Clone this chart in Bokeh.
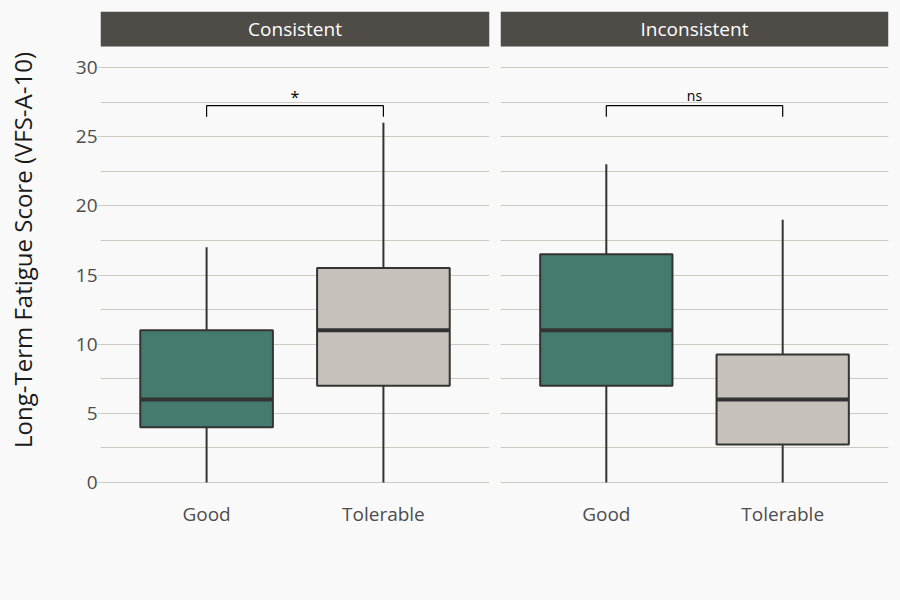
from bokeh.plotting import figure
from bokeh.layouts import row
from bokeh.models import Range1d, FixedTicker, BoxAnnotation, Label
from bokeh.embed import file_html
from bokeh.resources import INLINE

# ---- data ----
panels = ["Consistent", "Inconsistent"]
categories = ["Good", "Tolerable"]
whisker_low = {"Consistent": [0, 0], "Inconsistent": [0, 0]}
q1 = {"Consistent": [4, 7], "Inconsistent": [7, 2.75]}
median = {"Consistent": [6, 11], "Inconsistent": [11, 6]}
q3 = {"Consistent": [11, 15.5], "Inconsistent": [16.5, 9.25]}
whisker_high = {"Consistent": [17, 26], "Inconsistent": [23, 19]}
sig_label = {"Consistent": "*", "Inconsistent": "ns"}
sig_y = 27.25
sig_tip = 0.8
y_ticks = [0, 5, 10, 15, 20, 25, 30]
grid_ticks = [0, 2.5, 5, 7.5, 10, 12.5, 15, 17.5, 20, 22.5, 25, 27.5, 30]
box_colors = ["#457b6f", "#c6c1bb"]
y_title = "Long-Term Fatigue Score (VFS-A-10)"

BG = "#f9f9f9"
FONT = "Open Sans"
LINE = "#333333"
GRID = "#cdc9c3"

Y0, Y1 = -0.434, 34.05
STRIP_BOTTOM, STRIP_TOP = 31.52, 34.05


def make_panel(name, first):
    xs = [i + 1 for i in range(len(categories))]
    if first:
        w, left, right = 100 + 389 + 5, 100, 5
    else:
        w, left, right = 6 + 388 + 12, 6, 12
    p = figure(width=w, height=600, output_backend="svg", toolbar_location=None,
               x_range=Range1d(0.4, 2.6), y_range=Range1d(Y0, Y1),
               min_border_left=left, min_border_right=right,
               min_border_top=11, min_border_bottom=112)
    p.background_fill_color = BG
    p.border_fill_color = BG
    p.outline_line_color = None

    # grid
    p.xgrid.visible = False
    p.ygrid.ticker = FixedTicker(ticks=grid_ticks)
    p.ygrid.grid_line_color = GRID
    p.ygrid.grid_line_width = 1

    # x axis
    p.xaxis.ticker = FixedTicker(ticks=xs)
    p.xaxis.major_label_overrides = {x: c for x, c in zip(xs, categories)}
    p.xaxis.axis_line_color = None
    p.xaxis.major_tick_line_color = None
    p.xaxis.minor_tick_line_color = None
    p.xaxis.major_label_text_font = FONT
    p.xaxis.major_label_text_font_size = "19px"
    p.xaxis.major_label_text_color = "#4d4d4d"
    p.xaxis.major_label_standoff = 6

    # y axis
    if first:
        p.yaxis.ticker = FixedTicker(ticks=y_ticks)
        p.yaxis.axis_line_color = None
        p.yaxis.minor_tick_line_color = None
        p.yaxis.major_tick_line_color = GRID
        p.yaxis.major_tick_out = 3
        p.yaxis.major_tick_in = 0
        p.yaxis.major_label_standoff = 0
        p.yaxis.major_label_text_font = FONT
        p.yaxis.major_label_text_font_size = "19px"
        p.yaxis.major_label_text_color = "#4d4d4d"
        p.yaxis.axis_label = y_title
        p.yaxis.axis_label_text_font = FONT
        p.yaxis.axis_label_text_font_size = "24px"
        p.yaxis.axis_label_text_font_style = "normal"
        p.yaxis.axis_label_text_color = "#1a1a1a"
        p.yaxis.axis_label_standoff = 34
    else:
        p.yaxis.visible = False

    # boxes
    lo, a, m, b, hi = whisker_low[name], q1[name], median[name], q3[name], whisker_high[name]
    p.segment(x0=xs, y0=lo, x1=xs, y1=a, line_color=LINE, line_width=2)
    p.segment(x0=xs, y0=b, x1=xs, y1=hi, line_color=LINE, line_width=2)
    p.vbar(x=xs, width=0.75, bottom=a, top=b, fill_color=box_colors,
           line_color=LINE, line_width=2)
    p.segment(x0=[x - 0.375 for x in xs], y0=m, x1=[x + 0.375 for x in xs], y1=m,
              line_color=LINE, line_width=4)

    # significance bracket
    p.segment(x0=[xs[0], xs[0], xs[1]], y0=[sig_y, sig_y - sig_tip, sig_y - sig_tip],
              x1=[xs[1], xs[0], xs[1]], y1=[sig_y, sig_y, sig_y],
              line_color="black", line_width=1.2)
    lab = sig_label[name]
    star = lab == "*"
    p.add_layout(Label(x=(xs[0] + xs[1]) / 2, y=sig_y + (0.62 if star else 0.72),
                       text=lab, text_align="center", text_baseline="alphabetic",
                       text_font=FONT,
                       text_font_size="16px" if star else "14px",
                       text_color="black"))

    # facet strip
    p.add_layout(BoxAnnotation(bottom=STRIP_BOTTOM, top=STRIP_TOP,
                               fill_color="#4f4b47", fill_alpha=1.0,
                               line_color=None))
    p.add_layout(Label(x=1.5, y=(STRIP_BOTTOM + STRIP_TOP) / 2, text=name,
                       text_align="center", text_baseline="middle",
                       text_font=FONT, text_font_size="19px",
                       text_color="white"))
    return p


p1 = make_panel(panels[0], True)
p2 = make_panel(panels[1], False)
layout = row(p1, p2, spacing=0)
layout.styles = {"background-color": BG}

open("out.html", "w").write(file_html(layout, INLINE))
